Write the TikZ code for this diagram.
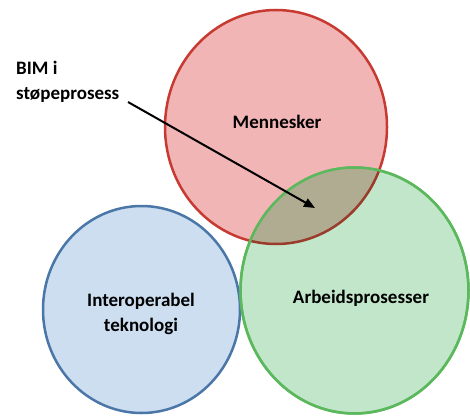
\documentclass[tikz,border=0pt]{standalone}
\usepackage{fontspec}
\setmainfont{Carlito}
\usetikzlibrary{arrows.meta}
\definecolor{redfill}{HTML}{F2B5B5}
\definecolor{redline}{HTML}{C63A32}
\definecolor{greenfill}{HTML}{C1E6C9}
\definecolor{greenline}{HTML}{5CB85C}
\definecolor{bluefill}{HTML}{CCDEF0}
\definecolor{blueline}{HTML}{4A76A8}
\definecolor{overlap}{HTML}{B0AC92}
\definecolor{overlapline}{HTML}{9A3B2B}
\begin{document}
\begin{tikzpicture}[x=1pt,y=-1pt,
  ring/.style={line width=2.5pt},
  txt/.style={font=\fontsize{19}{24.5}\selectfont\bfseries, align=center, inner sep=0pt},
  pointer/.style={-{Triangle[length=11pt,width=9pt]}, line width=2pt}]
\useasboundingbox (0,0) rectangle (470,417);
% three circles
\filldraw[ring, fill=bluefill, draw=blueline] (141.5,309.5) ellipse [x radius=98.5, y radius=103.5];
\filldraw[ring, fill=redfill, draw=redline] (276,127) ellipse [x radius=111, y radius=117];
\filldraw[ring, fill=greenfill, draw=greenline] (354.5,290.5) ellipse [x radius=114, y radius=123];
% overlap of people and work processes
\begin{scope}
  \clip (354.5,290.5) ellipse [x radius=114, y radius=123];
  \filldraw[ring, fill=overlap, draw=overlapline] (276,127) ellipse [x radius=111, y radius=117];
\end{scope}
\draw[ring, draw=greenline] (354.5,290.5) ellipse [x radius=114, y radius=123];
% labels
\node[txt, anchor=base] (men) at (277,128) {Mennesker};
\node[txt, anchor=base] (arb) at (361,303) {Arbeidsprosesser};
\node[txt] (tek) at (141,314) {Interoperabel\\teknologi};
\node[txt, align=left, anchor=west] (bim) at (16,82) {BIM i\\støpeprosess};
% pointer into the overlap
\coordinate (tail) at (128,102);
\coordinate (tip) at (315,208);
\draw[pointer] (tail) -- (tip);
\end{tikzpicture}
\end{document}
